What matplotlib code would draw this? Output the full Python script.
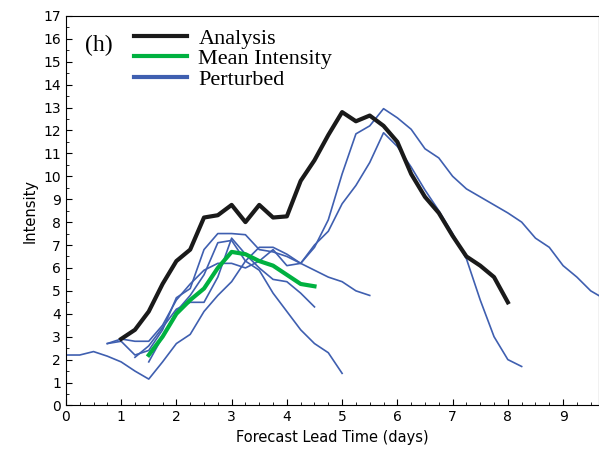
import numpy as np
import matplotlib.pyplot as plt
from matplotlib.ticker import MultipleLocator

# Analysis track
ana_x = np.arange(1.0, 8.01, 0.25)
ana_y = [2.9, 3.3, 4.1, 5.3, 6.3, 6.8, 8.2, 8.3, 8.75, 8.0, 8.75, 8.2, 8.25, 9.8, 10.7,
         11.8, 12.8, 12.4, 12.65, 12.2, 11.5, 10.1, 9.1, 8.4, 7.4, 6.5, 6.1, 5.6, 4.5]

# Mean intensity
mean_x = np.arange(1.5, 4.51, 0.25)
mean_y = [2.2, 3.0, 4.0, 4.6, 5.1, 6.0, 6.7, 6.6, 6.3, 6.1, 5.7, 5.3, 5.2]

# Perturbed members (start, values every 6 h)
pert_start = [0.0, 0.75, 0.75, 1.25, 1.5]
pert_vals = [
    [2.2, 2.2, 2.35, 2.15, 1.9, 1.5, 1.15, 1.9, 2.7, 3.1, 4.1, 4.8, 5.4, 6.3, 6.9, 6.9,
     6.6, 6.2, 6.9, 8.1, 10.1, 11.85, 12.2, 12.95, 12.55, 12.05, 11.2, 10.8, 10.0, 9.45,
     9.1, 8.75, 8.4, 8.0, 7.3, 6.9, 6.1, 5.6, 5.0, 4.65],
    [2.7, 2.9, 2.8, 2.8, 3.5, 4.6, 5.3, 5.9, 6.2, 6.2, 6.0, 6.3, 6.8, 6.1, 6.2, 7.0,
     7.6, 8.8, 9.6, 10.6, 11.9, 11.3, 10.4, 9.4, 8.5, 7.5, 6.4, 4.6, 3.0, 2.0, 1.7],
    [2.7, 2.8, 2.2, 2.4, 3.3, 4.7, 5.1, 6.8, 7.5, 7.5, 7.45, 6.8, 6.7, 6.5, 6.2, 5.9,
     5.6, 5.4, 5.0, 4.8],
    [2.1, 2.6, 3.4, 4.2, 4.5, 4.5, 5.6, 7.3, 6.6, 6.0, 5.5, 5.4, 4.9, 4.3],
    [1.9, 3.0, 4.1, 4.8, 5.7, 7.1, 7.2, 6.3, 5.9, 4.9, 4.1, 3.3, 2.7, 2.3, 1.4],
]

fig, ax = plt.subplots(figsize=(5.99, 4.53), dpi=100)
fig.subplots_adjust(left=0.11, right=1.0, top=0.965, bottom=0.105)

blue = '#3f5fb0'
for i, (s, v) in enumerate(zip(pert_start, pert_vals)):
    x = s + 0.25 * np.arange(len(v))
    ax.plot(x, v, color=blue, lw=1.2, label='Perturbed' if i == 0 else None, zorder=2)
ax.plot(ana_x, ana_y, color='#1a1a1a', lw=3, label='Analysis', zorder=3)
ax.plot(mean_x, mean_y, color='#00b140', lw=3, label='Mean Intensity', zorder=4)

h, l = ax.get_legend_handles_labels()
order = [1, 2, 0]
leg = ax.legend([h[i] for i in order], [l[i] for i in order], loc='upper left',
                bbox_to_anchor=(0.09, 1.02), frameon=False, handlelength=2.4,
                handletextpad=0.5, labelspacing=0.0,
                prop={'family': 'Liberation Serif', 'size': 16})
for ln in leg.get_lines():
    ln.set_linewidth(3)
ax.text(0.035, 0.95, '(h)', transform=ax.transAxes, fontsize=17,
        family='Liberation Serif', va='top')

ax.set_xlim(0, 9.65)
ax.set_ylim(0, 17)
ax.xaxis.set_major_locator(MultipleLocator(1))
ax.xaxis.set_minor_locator(MultipleLocator(0.25))
ax.yaxis.set_major_locator(MultipleLocator(1))
ax.yaxis.set_minor_locator(MultipleLocator(0.5))
ax.tick_params(which='both', direction='in', labelsize=10)
ax.tick_params(which='major', length=4)
ax.tick_params(which='minor', length=2)
ax.set_xlabel('Forecast Lead Time (days)', fontsize=10.5)
ax.set_ylabel('Intensity', fontsize=10.5)

fig.savefig('out.png')
